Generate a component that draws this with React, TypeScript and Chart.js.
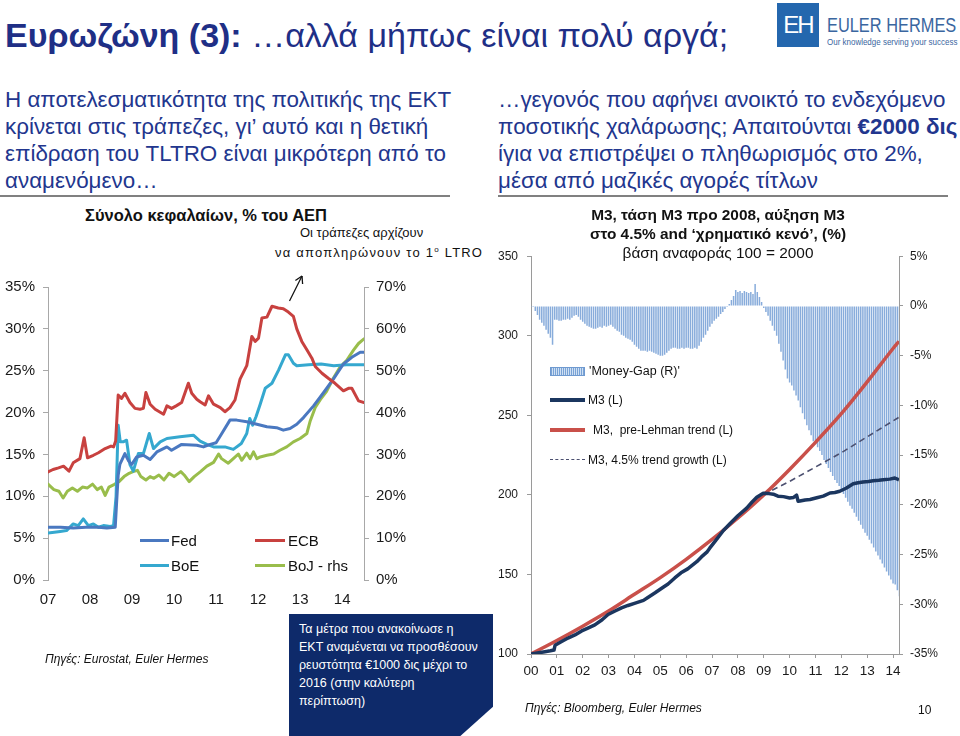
import React, { useEffect, useRef } from 'react';
import { Chart, registerables } from 'chart.js';

Chart.register(...registerables);

const FONT = '"Liberation Sans", Arial, Helvetica, sans-serif';

// ---------- Left chart: total assets, % of GDP ----------
const leftYears = [2007, 2008, 2009, 2010, 2011, 2012, 2013, 2014];
const leftYearTicks = ['07', '08', '09', '10', '11', '12', '13', '14'];
const leftAxisPct = [0, 5, 10, 15, 20, 25, 30, 35];
const rightAxisPct = [0, 10, 20, 30, 40, 50, 60, 70];

const fedSeries = [
  [2007.0, 6.3], [2007.3, 6.3], [2007.6, 6.2], [2007.9, 6.3], [2008.2, 6.3], [2008.4, 6.2], [2008.6, 6.3],
  [2008.63, 9.0], [2008.67, 12.5], [2008.71, 13.8], [2008.83, 15.1], [2008.92, 14.2], [2008.99, 13.8],
  [2009.11, 14.7], [2009.27, 14.9], [2009.43, 14.4], [2009.59, 15.3], [2009.83, 15.9], [2009.94, 15.5],
  [2010.18, 16.2], [2010.54, 16.1], [2010.7, 15.9], [2010.86, 16.2], [2011.0, 16.4], [2011.1, 17.2],
  [2011.33, 19.1], [2011.49, 19.1], [2011.73, 18.9], [2011.97, 18.6], [2012.21, 18.3], [2012.44, 18.2],
  [2012.6, 17.9], [2012.76, 18.1], [2012.92, 18.6], [2013.08, 19.4], [2013.32, 20.8], [2013.56, 22.4],
  [2013.79, 24.0], [2014.03, 25.8], [2014.23, 26.6], [2014.43, 27.2], [2014.52, 27.2],
];

const ecbSeries = [
  [2007.0, 12.9], [2007.12, 13.2], [2007.25, 13.4], [2007.37, 13.6], [2007.5, 13.0], [2007.6, 14.0],
  [2007.76, 14.5], [2007.86, 17.0], [2007.94, 14.6], [2008.08, 14.9], [2008.2, 15.2], [2008.36, 15.7],
  [2008.5, 16.0], [2008.56, 15.9], [2008.61, 16.6], [2008.67, 22.1], [2008.75, 21.7], [2008.83, 22.3],
  [2008.95, 21.2], [2009.07, 20.5], [2009.19, 20.4], [2009.27, 20.5], [2009.33, 22.4], [2009.43, 21.0],
  [2009.55, 20.4], [2009.75, 19.8], [2009.83, 20.8], [2009.94, 20.5], [2010.05, 20.8], [2010.18, 21.2],
  [2010.34, 23.5], [2010.42, 22.3], [2010.54, 21.6], [2010.62, 21.3], [2010.74, 20.9], [2010.82, 22.0],
  [2010.94, 21.0], [2011.1, 20.6], [2011.21, 20.1], [2011.33, 20.6], [2011.45, 21.5], [2011.57, 24.0],
  [2011.65, 24.8], [2011.73, 25.6], [2011.85, 29.1], [2011.93, 28.5], [2012.01, 28.9], [2012.09, 31.3],
  [2012.21, 31.4], [2012.33, 32.7], [2012.48, 32.5], [2012.6, 32.4], [2012.72, 32.0], [2012.84, 31.5],
  [2012.92, 30.0], [2013.04, 28.5], [2013.16, 27.5], [2013.28, 26.5], [2013.36, 25.5], [2013.52, 24.7],
  [2013.67, 24.1], [2013.83, 23.5], [2014.03, 22.6], [2014.15, 22.9], [2014.23, 22.9], [2014.39, 21.4],
  [2014.52, 21.2],
];

const boeSeries = [
  [2007.0, 5.6], [2007.15, 5.7], [2007.29, 5.8], [2007.44, 5.9], [2007.6, 6.7], [2007.72, 6.5],
  [2007.84, 7.3], [2007.96, 6.5], [2008.08, 6.7], [2008.2, 6.3], [2008.32, 6.5], [2008.48, 6.4],
  [2008.56, 6.5], [2008.62, 10.0], [2008.67, 18.5], [2008.72, 16.5], [2008.79, 16.5], [2008.87, 16.7],
  [2008.95, 13.8], [2009.03, 13.0], [2009.15, 15.1], [2009.27, 15.1], [2009.41, 17.5], [2009.51, 15.7],
  [2009.67, 16.5], [2009.83, 16.9], [2010.14, 17.1], [2010.46, 17.3], [2010.62, 16.6], [2010.78, 16.2],
  [2010.94, 15.9], [2011.21, 15.9], [2011.41, 15.6], [2011.6, 16.3], [2011.73, 17.5], [2011.8, 19.3],
  [2011.87, 18.5], [2011.95, 19.5], [2012.05, 21.0], [2012.17, 22.9], [2012.33, 23.5], [2012.49, 25.1],
  [2012.65, 26.9], [2012.72, 26.9], [2012.84, 25.9], [2012.92, 25.6], [2013.2, 25.7], [2013.5, 25.8],
  [2013.8, 25.6], [2014.1, 25.7], [2014.3, 25.7], [2014.52, 25.7],
];

const bojSeries = [
  [2007.0, 22.9], [2007.14, 21.6], [2007.26, 21.2], [2007.36, 19.6], [2007.46, 21.2], [2007.58, 22.0],
  [2007.7, 21.2], [2007.82, 22.2], [2007.94, 22.0], [2008.06, 22.9], [2008.17, 21.6], [2008.27, 22.2],
  [2008.36, 20.2], [2008.45, 22.2], [2008.57, 22.8], [2008.69, 23.5], [2008.81, 24.7], [2008.93, 25.5],
  [2009.05, 26.0], [2009.13, 26.2], [2009.21, 24.7], [2009.33, 23.9], [2009.43, 24.7], [2009.52, 24.3],
  [2009.64, 25.1], [2009.76, 23.9], [2009.88, 25.5], [2010.0, 24.7], [2010.16, 25.9], [2010.24, 25.1],
  [2010.36, 23.5], [2010.48, 24.7], [2010.63, 25.9], [2010.78, 27.2], [2010.94, 28.1], [2011.06, 30.1],
  [2011.13, 29.0], [2011.29, 27.9], [2011.41, 29.0], [2011.53, 30.1], [2011.61, 28.6], [2011.73, 30.3],
  [2011.81, 29.0], [2011.89, 30.6], [2011.97, 29.0], [2012.05, 29.4], [2012.21, 29.8], [2012.37, 30.1],
  [2012.52, 31.0], [2012.68, 31.8], [2012.84, 33.0], [2013.0, 33.8], [2013.16, 35.0], [2013.24, 38.0],
  [2013.36, 41.2], [2013.48, 43.1], [2013.63, 45.1], [2013.79, 48.2], [2013.95, 50.9], [2014.11, 52.5],
  [2014.27, 54.9], [2014.39, 56.5], [2014.52, 57.6],
];

// ---------- Right chart: M3 (index 2000 = 100) and money gap ----------
const m3Years = [2000, 2001, 2002, 2003, 2004, 2005, 2006, 2007, 2008, 2009, 2010, 2011, 2012, 2013, 2014];
const m3YearTicks = ['00', '01', '02', '03', '04', '05', '06', '07', '08', '09', '10', '11', '12', '13', '14'];
const m3AxisTicks = [100, 150, 200, 250, 300, 350];
const gapAxisTicks = [-35, -30, -25, -20, -15, -10, -5, 0, 5];
const gapStartYear = 2000; // monthly, Jan 2000 .. Apr 2014

const moneyGap = [
  // 2000
  -0.1, -0.1, -0.5, -0.9, -1.4, -1.7, -2.0, -2.4, -2.8, -3.2, -3.9, -1.4,
  // 2001
  -1.4, -1.5, -1.5, -1.4, -1.4, -1.3, -1.4, -1.2, -1.0, -0.9, -1.1, -1.4,
  // 2002
  -1.6, -1.8, -2.0, -2.1, -2.2, -2.3, -2.3, -2.2, -2.1, -2.2, -2.0, -2.1,
  // 2003
  -2.0, -1.9, -2.1, -2.3, -2.5, -2.6, -2.9, -3.0, -3.2, -3.3, -3.4, -3.6,
  // 2004
  -3.9, -4.1, -4.3, -4.5, -4.5, -4.5, -4.6, -4.5, -4.6, -4.7, -4.8, -4.9,
  // 2005
  -5.0, -5.0, -4.9, -4.7, -4.5, -4.3, -4.2, -4.2, -4.3, -4.3, -4.2, -4.3,
  // 2006
  -4.2, -4.2, -4.3, -4.3, -4.2, -4.3, -4.0, -3.6, -3.2, -2.9, -2.5, -2.1,
  // 2007
  -1.8, -1.5, -1.3, -1.1, -0.8, -0.6, -0.3, -0.1, 0.2, 0.6, 1.0, 1.6,
  // 2008
  1.4, 1.5, 1.3, 1.5, 1.4, 1.3, 1.4, 1.2, 2.2, 1.4, 0.9, 0.4,
  // 2009
  -0.2, -0.6, -1.0, -1.5, -2.0, -2.5, -3.0, -3.8, -4.6, -5.5, -6.4, -7.3,
  // 2010
  -7.7, -8.0, -8.5, -9.0, -9.5, -10.2, -10.8, -11.4, -12.0, -12.5, -13.0, -13.6,
  // 2011
  -13.9, -14.2, -14.6, -15.0, -15.5, -15.9, -16.3, -16.7, -17.1, -17.5, -17.8, -18.1,
  // 2012
  -18.5, -18.9, -19.3, -19.7, -20.1, -20.4, -20.8, -21.2, -21.6, -22.0, -22.4, -22.8,
  // 2013
  -23.1, -23.5, -23.9, -24.3, -24.7, -25.1, -25.5, -25.9, -26.3, -26.7, -27.1, -27.5,
  // 2014
  -27.9, -28.0, -28.6, -29.2,
];

const m3Series = [
  [2000.0, 100], [2000.3, 100.8], [2000.54, 101.4], [2000.75, 102.0], [2000.89, 102.5], [2000.93, 105.5],
  [2001.15, 107.5], [2001.43, 110.0], [2001.7, 112.0], [2001.96, 114.5], [2002.2, 116.3], [2002.47, 118.3],
  [2002.75, 121.5], [2002.98, 124.8], [2003.25, 127.0], [2003.5, 129.0], [2003.75, 130.5], [2004.0, 131.8],
  [2004.35, 133.7], [2004.52, 135.5], [2004.8, 138.5], [2005.04, 141.2], [2005.3, 144.0], [2005.56, 147.8],
  [2005.8, 151.0], [2006.06, 153.5], [2006.41, 158.0], [2006.59, 161.0], [2006.8, 164.0], [2006.91, 166.5],
  [2007.1, 170.5], [2007.44, 177.6], [2007.7, 182.0], [2008.0, 186.9], [2008.34, 191.7], [2008.55, 195.5],
  [2008.73, 198.5], [2008.98, 201.0], [2009.2, 200.8], [2009.37, 200.4], [2009.55, 199.2], [2009.76, 198.9],
  [2010.0, 198.0], [2010.14, 198.3], [2010.27, 199.8], [2010.33, 196.0], [2010.4, 196.1], [2010.6, 196.8],
  [2010.79, 197.1], [2011.05, 198.2], [2011.3, 199.2], [2011.56, 201.2], [2011.75, 201.5], [2011.94, 202.3],
  [2012.2, 204.3], [2012.46, 207.0], [2012.65, 207.6], [2012.84, 208.1], [2013.05, 208.4], [2013.23, 208.9],
  [2013.45, 209.2], [2013.62, 209.5], [2013.87, 209.9], [2014.07, 210.6], [2014.15, 210.0], [2014.23, 209.5],
];

const preLehmanTrend = [
  [2000, 100], [2001, 108.5], [2002, 117.5], [2003, 127], [2004, 137.5], [2005, 148], [2006, 159.5],
  [2007, 172], [2008, 185.5], [2009, 200], [2010, 216], [2011, 233], [2012, 251], [2013, 271],
  [2014, 292], [2014.23, 296.5],
];

const trend45 = [
  [2008.98, 200], [2010, 208.5], [2011, 217.5], [2012, 226.5], [2013, 236.5], [2014, 246.5], [2014.23, 248.8],
];

// ---------- colours ----------
const C_FED = '#4a78c0';
const C_ECB = '#c8413f';
const C_BOE = '#35a8cf';
const C_BOJ = '#99bd4b';
const C_M3 = '#1b365f';
const C_TREND = '#c9504a';
const C_DASH = '#4c5070';
const C_GAP = '#88acdb';
const AXIS = '#a8a8a8';
const NAVY = '#1f2f86';

const xy = (pairs: number[][]) => pairs.map(([x, y]) => ({ x, y }));
const fixedTicks = (values: number[]) => (scale: any) => {
  scale.ticks = values.map((v) => ({ value: v }));
};

function leftConfig(): any {
  const tickFont = { family: FONT, size: 15 };
  const line = (label: string, data: number[][], color: string, axis: string) => ({
    label, data: xy(data), yAxisID: axis, borderColor: color, backgroundColor: color,
    borderWidth: 3, pointRadius: 0, tension: 0, borderJoinStyle: 'round', borderCapStyle: 'round',
  });
  return {
    type: 'line',
    data: {
      datasets: [
        line('ECB', ecbSeries, C_ECB, 'y'),
        line('Fed', fedSeries, C_FED, 'y'),
        line('BoE', boeSeries, C_BOE, 'y'),
        line('BoJ - rhs', bojSeries, C_BOJ, 'y2'),
      ],
    },
    options: {
      animation: false, responsive: false, maintainAspectRatio: false,
      layout: { padding: { top: 12, left: 0, right: 0, bottom: 0 } },
      plugins: { legend: { display: false }, tooltip: { enabled: false } },
      scales: {
        x: {
          type: 'linear', min: 2007, max: 2014.52,
          afterBuildTicks: fixedTicks(leftYears),
          afterFit: (s: any) => { s.height = 35; },
          ticks: {
            autoSkip: false, maxRotation: 0, padding: 11, color: '#1a1a1a', font: tickFont,
            callback: (v: any) => leftYearTicks[leftYears.indexOf(Math.round(Number(v)))] ?? '',
          },
          grid: { display: false, drawTicks: false, tickLength: 0 },
          border: { display: false },
        },
        y: {
          position: 'left', min: leftAxisPct[0], max: leftAxisPct[leftAxisPct.length - 1],
          afterBuildTicks: fixedTicks(leftAxisPct),
          afterFit: (s: any) => { s.width = 48; },
          ticks: { padding: 8, color: '#1a1a1a', font: tickFont, callback: (v: any) => v + '%' },
          grid: { drawOnChartArea: false, tickLength: 5, color: AXIS },
          border: { color: AXIS },
        },
        y2: {
          position: 'right', min: rightAxisPct[0], max: rightAxisPct[rightAxisPct.length - 1],
          afterBuildTicks: fixedTicks(rightAxisPct),
          afterFit: (s: any) => { s.width = 56; },
          ticks: { padding: 7, color: '#1a1a1a', font: tickFont, callback: (v: any) => v + '%' },
          grid: { drawOnChartArea: false, tickLength: 5, color: AXIS },
          border: { color: AXIS },
        },
      },
    },
  };
}

function rightConfig(): any {
  const tickFont = { family: FONT, size: 12 };
  const gapData = moneyGap.map((v, i) => ({ x: gapStartYear + i / 12, y: v }));
  return {
    type: 'bar',
    data: {
      datasets: [
        {
          type: 'line', label: 'M3 (L)', data: xy(m3Series), yAxisID: 'y', order: 0,
          borderColor: C_M3, borderWidth: 3.5, pointRadius: 0, tension: 0, borderJoinStyle: 'round',
        },
        {
          type: 'line', label: 'M3, pre-Lehman trend (L)', data: xy(preLehmanTrend), yAxisID: 'y', order: 1,
          borderColor: C_TREND, borderWidth: 3.5, pointRadius: 0, cubicInterpolationMode: 'monotone',
        },
        {
          type: 'line', label: 'M3, 4.5% trend growth (L)', data: xy(trend45), yAxisID: 'y', order: 2,
          borderColor: C_DASH, borderWidth: 1.6, borderDash: [6, 4], pointRadius: 0, tension: 0,
        },
        {
          type: 'bar', label: "'Money-Gap (R)'", data: gapData, yAxisID: 'y2', order: 3,
          backgroundColor: C_GAP, borderWidth: 0, barPercentage: 0.7, categoryPercentage: 1,
        },
      ],
    },
    options: {
      animation: false, responsive: false, maintainAspectRatio: false,
      layout: { padding: { top: 12, left: 0, right: 0, bottom: 0 } },
      plugins: { legend: { display: false }, tooltip: { enabled: false } },
      scales: {
        x: {
          type: 'linear', min: 2000, max: 2014.23, offset: false,
          afterBuildTicks: fixedTicks(m3Years),
          afterFit: (s: any) => { s.height = 36; },
          ticks: {
            autoSkip: false, maxRotation: 0, padding: 5, color: '#1a1a1a',
            font: { family: FONT, size: 13.5 },
            callback: (v: any) => m3YearTicks[m3Years.indexOf(Math.round(Number(v)))] ?? '',
          },
          grid: { display: true, drawOnChartArea: false, tickLength: 4, color: '#9a9a9a', offset: false },
          border: { color: '#9a9a9a' },
        },
        y: {
          position: 'left', min: m3AxisTicks[0], max: m3AxisTicks[m3AxisTicks.length - 1],
          afterBuildTicks: fixedTicks(m3AxisTicks),
          afterFit: (s: any) => { s.width = 41; },
          ticks: { padding: 9, color: '#1a1a1a', font: tickFont },
          grid: { drawOnChartArea: false, tickLength: 4, color: '#9a9a9a' },
          border: { color: '#9a9a9a' },
        },
        y2: {
          position: 'right', min: gapAxisTicks[0], max: gapAxisTicks[gapAxisTicks.length - 1],
          afterBuildTicks: fixedTicks(gapAxisTicks),
          afterFit: (s: any) => { s.width = 51; },
          ticks: { padding: 7, color: '#1a1a1a', font: tickFont, callback: (v: any) => v + '%' },
          grid: { drawOnChartArea: false, tickLength: 4, color: '#9a9a9a' },
          border: { color: '#9a9a9a' },
        },
      },
    },
  };
}

const abs = (left: number, top: number, extra: React.CSSProperties = {}): React.CSSProperties => ({
  position: 'absolute', left, top, whiteSpace: 'nowrap', ...extra,
});

// text line positioned by its vertical centre
function TextLine(props: { x: number; cy: number; size: number; lh?: number; style?: React.CSSProperties; children: React.ReactNode }) {
  const lh = props.lh ?? Math.round(props.size * 1.25);
  return (
    <div style={abs(props.x, props.cy - lh / 2, { fontSize: props.size, lineHeight: lh + 'px', ...props.style })}>
      {props.children}
    </div>
  );
}

function LegendLine(props: { x: number; cy: number; w: number; color: string; thick: number; dashed?: boolean }) {
  const style: React.CSSProperties = props.dashed
    ? { borderTop: `${props.thick}px dashed ${props.color}`, height: 0 }
    : { background: props.color, height: props.thick };
  return <div style={abs(props.x, props.cy - props.thick / 2, { width: props.w, ...style })} />;
}

export default function App() {
  const leftRef = useRef<HTMLCanvasElement>(null);
  const rightRef = useRef<HTMLCanvasElement>(null);

  useEffect(() => {
    const c1 = new Chart(leftRef.current as HTMLCanvasElement, leftConfig());
    const c2 = new Chart(rightRef.current as HTMLCanvasElement, rightConfig());
    return () => { c1.destroy(); c2.destroy(); };
  }, []);

  const blue: React.CSSProperties = { color: '#22368e' };
  const PARA = 22.4;

  return (
    <div style={{ position: 'absolute', left: 0, top: 0, width: 960, height: 736, overflow: 'hidden', background: '#fff', fontFamily: FONT, color: '#111' }}>
      {/* Title */}
      <TextLine x={5} cy={35} size={34} style={{ color: NAVY }}>
        <b>Ευρωζώνη (3):</b> …αλλά μήπως είναι πολύ αργά;
      </TextLine>

      {/* Logo */}
      <div style={abs(777, 3, { width: 42, height: 44, background: '#2467ae', color: '#fff', fontSize: 24, lineHeight: '44px', textAlign: 'center', fontWeight: 300, letterSpacing: -2 })}>EH</div>
      <TextLine x={827} cy={25} size={21} style={{ color: '#3a66a0', transform: 'scaleX(0.78)', transformOrigin: 'left center' }}>EULER HERMES</TextLine>
      <TextLine x={827} cy={42} size={9.5} style={{ color: '#3a66a0', transform: 'scaleX(0.84)', transformOrigin: 'left center' }}>Our knowledge serving your success</TextLine>

      {/* Left paragraph */}
      {['Η αποτελεσματικότητα της πολιτικής της ΕΚΤ', 'κρίνεται στις τράπεζες, γι’ αυτό και η θετική', 'επίδραση του TLTRO είναι μικρότερη από το', 'αναμενόμενο…'].map((t, i) => (
        <TextLine key={'l' + i} x={5} cy={100 + i * 27} size={PARA} style={blue}>{t}</TextLine>
      ))}
      {/* Right paragraph */}
      <TextLine x={498} cy={100} size={PARA} style={blue}>…γεγονός που αφήνει ανοικτό το ενδεχόμενο</TextLine>
      <TextLine x={498} cy={127} size={PARA} style={blue}>ποσοτικής χαλάρωσης; Απαιτούνται <b>€2000 δις</b></TextLine>
      <TextLine x={498} cy={154} size={PARA} style={blue}>ίγια να επιστρέψει ο πληθωρισμός στο 2%,</TextLine>
      <TextLine x={498} cy={181} size={PARA} style={blue}>μέσα από μαζικές αγορές τίτλων</TextLine>
      <div style={abs(0, 195, { width: 450, height: 2, background: '#808080' })} />
      <div style={abs(498, 195, { width: 450, height: 2, background: '#808080' })} />

      {/* Left chart */}
      <TextLine x={85} cy={215} size={16.5} style={{ fontWeight: 'bold' }}>Σύνολο κεφαλαίων, % του ΑΕΠ</TextLine>
      <TextLine x={300} cy={233} size={13}>Οι τράπεζες αρχίζουν</TextLine>
      <TextLine x={275} cy={250} size={13} style={{ letterSpacing: 1.2 }}>να αποπληρώνουν το 1<sup style={{ fontSize: 8, verticalAlign: 5 }}>ο</sup> LTRO</TextLine>
      <canvas ref={leftRef} width={420} height={345} style={abs(0, 270, { width: 420, height: 345 })} />
      <svg style={abs(0, 0)} width={960} height={736} pointerEvents="none">
        <g stroke="#111" strokeWidth={1.3} fill="none">
          <line x1={289.5} y1={301} x2={302} y2={276} />
          <line x1={302} y1={276} x2={295.4} y2={280.5} />
          <line x1={302} y1={276} x2={302.6} y2={284} />
        </g>
      </svg>
      <LegendLine x={140} cy={540} w={29} color={C_FED} thick={3} />
      <TextLine x={171} cy={540} size={15}>Fed</TextLine>
      <LegendLine x={255} cy={540} w={30} color={C_ECB} thick={3} />
      <TextLine x={288} cy={540} size={15}>ECB</TextLine>
      <LegendLine x={140} cy={565} w={29} color={C_BOE} thick={3} />
      <TextLine x={171} cy={565} size={15}>BoE</TextLine>
      <LegendLine x={255} cy={565} w={30} color={C_BOJ} thick={3} />
      <TextLine x={288} cy={565} size={15}>BoJ - rhs</TextLine>
      <TextLine x={45} cy={659} size={12} style={{ fontStyle: 'italic' }}>Πηγές: Eurostat, Euler Hermes</TextLine>

      {/* Blue box */}
      <div style={abs(289, 614, {
        width: 204, height: 122, background: '#0e2a6a', color: '#fff', fontSize: 12.5, lineHeight: '18px',
        padding: '6px 0 0 10px', boxSizing: 'border-box',
        clipPath: 'polygon(0 0, 100% 0, 100% 76%, 84% 100%, 0 100%)',
      })}>
        Τα μέτρα που ανακοίνωσε η<br />ΕΚΤ αναμένεται να προσθέσουν<br />ρευστότητα €1000 δις μέχρι το<br />2016 (στην καλύτερη<br />περίπτωση)
      </div>

      {/* Right chart */}
      <canvas ref={rightRef} width={460} height={450} style={abs(490, 240, { width: 460, height: 450 })} />
      <div style={abs(518, 205, { width: 400, textAlign: 'center', fontSize: 15.4, lineHeight: '19px', whiteSpace: 'normal' })}>
        <b>M3, τάση M3 προ 2008, αύξηση M3</b><br />
        <b>στο 4.5% and ‘χρηματικό κενό’, (%)</b><br />
        βάση αναφοράς 100 = 2000
      </div>
      <div style={abs(550, 367, {
        width: 35, height: 9, boxSizing: 'border-box', border: '1px solid #6f9ad0',
        background: 'repeating-linear-gradient(90deg, #7aa3d6 0px, #7aa3d6 1px, #cfe0f3 1px, #cfe0f3 2px)',
      })} />
      <TextLine x={589} cy={371} size={12.5}>'Money-Gap (R)'</TextLine>
      <LegendLine x={550} cy={400} w={35} color={C_M3} thick={3.5} />
      <TextLine x={588} cy={400} size={12}>M3 (L)</TextLine>
      <LegendLine x={550} cy={430} w={35} color={C_TREND} thick={4} />
      <TextLine x={593} cy={430} size={12}>M3,&nbsp; pre-Lehman trend (L)</TextLine>
      <LegendLine x={550} cy={460} w={35} color={C_DASH} thick={1.5} dashed />
      <TextLine x={588} cy={460} size={12}>M3, 4.5% trend growth (L)</TextLine>
      <TextLine x={525} cy={708} size={12} style={{ fontStyle: 'italic' }}>Πηγές: Bloomberg, Euler Hermes</TextLine>
      <TextLine x={918} cy={710} size={12}>10</TextLine>
    </div>
  );
}
